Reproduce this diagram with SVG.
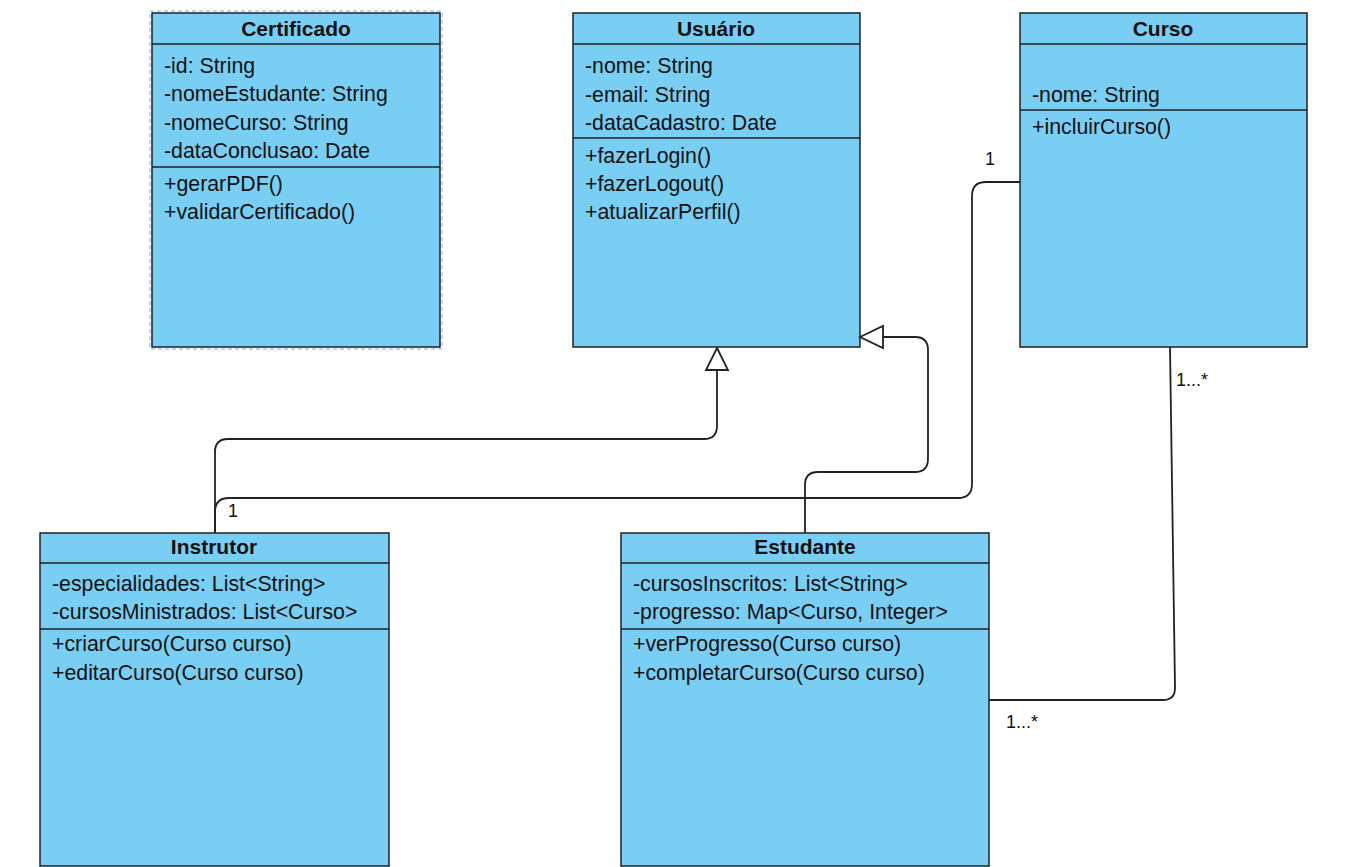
<svg xmlns="http://www.w3.org/2000/svg" width="1363" height="867" viewBox="0 0 1363 867">
<style>
.box{fill:#79CFF3;stroke:#222;stroke-width:1.5}
.sep{stroke:#222;stroke-width:1.5}
.t{font-family:"Liberation Sans",Arial,sans-serif;font-size:21.3px;fill:#111}
.h{font-family:"Liberation Sans",Arial,sans-serif;font-size:21px;font-weight:bold;fill:#111;text-anchor:middle}
.lbl{font-family:"Liberation Sans",Arial,sans-serif;font-size:18px;fill:#111}
.c{fill:none;stroke:#222;stroke-width:1.8}
.tri{fill:#fff;stroke:#222;stroke-width:1.8}
</style>
<rect width="1363" height="867" fill="#fff"/>
<g id="Certificado">
<rect x="150" y="11" width="292" height="338" fill="none" stroke="#a9c9ee" stroke-width="1.5" stroke-dasharray="4 3"/>
<rect class="box" x="152" y="13" width="288" height="334"/>
<line class="sep" x1="152" y1="44" x2="440" y2="44"/>
<line class="sep" x1="152" y1="167" x2="440" y2="167"/>
<text class="h" x="296" y="36">Certificado</text>
<text class="t" x="164" y="73">-id: String</text>
<text class="t" x="164" y="101">-nomeEstudante: String</text>
<text class="t" x="164" y="130">-nomeCurso: String</text>
<text class="t" x="164" y="158">-dataConclusao: Date</text>
<text class="t" x="164" y="191">+gerarPDF()</text>
<text class="t" x="164" y="219">+validarCertificado()</text>
</g>
<g id="Usuario">
<rect class="box" x="573" y="13" width="287" height="334"/>
<line class="sep" x1="573" y1="44" x2="860" y2="44"/>
<line class="sep" x1="573" y1="138" x2="860" y2="138"/>
<text class="h" x="716" y="36">Usuário</text>
<text class="t" x="585" y="73">-nome: String</text>
<text class="t" x="585" y="102">-email: String</text>
<text class="t" x="585" y="130">-dataCadastro: Date</text>
<text class="t" x="585" y="163">+fazerLogin()</text>
<text class="t" x="585" y="191">+fazerLogout()</text>
<text class="t" x="585" y="219">+atualizarPerfil()</text>
</g>
<g id="Curso">
<rect class="box" x="1020" y="13" width="287" height="334"/>
<line class="sep" x1="1020" y1="44" x2="1307" y2="44"/>
<line class="sep" x1="1020" y1="110" x2="1307" y2="110"/>
<text class="h" x="1163" y="36">Curso</text>
<text class="t" x="1032" y="102">-nome: String</text>
<text class="t" x="1032" y="134">+incluirCurso()</text>
</g>
<g id="Instrutor">
<rect class="box" x="40" y="533" width="349" height="333"/>
<line class="sep" x1="40" y1="563" x2="389" y2="563"/>
<line class="sep" x1="40" y1="629" x2="389" y2="629"/>
<text class="h" x="214" y="554">Instrutor</text>
<text class="t" x="52" y="591">-especialidades: List&lt;String&gt;</text>
<text class="t" x="52" y="619">-cursosMinistrados: List&lt;Curso&gt;</text>
<text class="t" x="52" y="651">+criarCurso(Curso curso)</text>
<text class="t" x="52" y="680">+editarCurso(Curso curso)</text>
</g>
<g id="Estudante">
<rect class="box" x="621" y="533" width="368" height="333"/>
<line class="sep" x1="621" y1="563" x2="989" y2="563"/>
<line class="sep" x1="621" y1="629" x2="989" y2="629"/>
<text class="h" x="805" y="554">Estudante</text>
<text class="t" x="633" y="591">-cursosInscritos: List&lt;String&gt;</text>
<text class="t" x="633" y="619">-progresso: Map&lt;Curso, Integer&gt;</text>
<text class="t" x="633" y="651">+verProgresso(Curso curso)</text>
<text class="t" x="633" y="680">+completarCurso(Curso curso)</text>
</g>
<g id="connectors">
<path class="c" d="M215 533 V452 Q215 439 228 439 H704 Q717 439 717 426 V370"/>
<path class="tri" d="M717 348 L728 370 L706 370 Z"/>
<path class="c" d="M805 533 V485 Q805 472 818 472 H915 Q928 472 928 459 V350 Q928 337 915 337 H883"/>
<path class="tri" d="M860 337 L883 326 L883 348 Z"/>
<path class="c" d="M1020 182 H986 Q972 182 972 196 V484 Q972 498 958 498 H229 Q215 498 215 512 V533"/>
<path class="c" d="M1170 347 L1175 688 Q1175 700 1163 700 H989"/>
<text class="lbl" x="985" y="165">1</text>
<text class="lbl" x="228" y="517">1</text>
<text class="lbl" x="1176" y="386">1...*</text>
<text class="lbl" x="1006" y="728">1...*</text>
</g>
</svg>
